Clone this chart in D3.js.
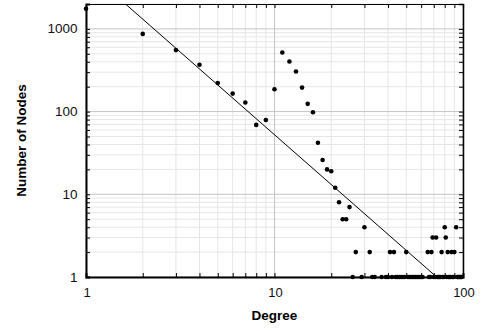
<!DOCTYPE html>
<html>
<head>
<meta charset="utf-8">
<script src="https://cdn.jsdelivr.net/npm/d3@7"></script>
<style>
  html, body { margin: 0; padding: 0; background: #fff; }
  svg { display: block; }
  text { font-family: "Liberation Sans", Arial, Helvetica, sans-serif; }
</style>
</head>
<body>
<svg id="chart" width="484" height="331"></svg>
<script>
// ---- data ----
const degrees = [1,2,3,4,5,6,7,8,9,10,11,12,13,14,15,16,17,18,19,20,21,22,23,24,25,27,30,32,41,43,50,65,68,69,72,77,80,81,83,87,90,92];
const counts  = [1750,870,554,368,222,165,129,69,79,186,518,404,306,195,124,98,42,26,20,19,12,8,5,5,7,2,4,2,2,2,2,2,2,3,3,2,4,3,2,2,2,4];
// degrees that have exactly one node
const singleDegrees = [26,29,33,34,37,39,40,42,44,45,46,47,48,49,51,52,53,54,55,56,57,58,59,60,61,66,67,70,71,73,74,75,76,78,79,82,84,85,86,88,89,93,94,95,96,97,98];
const singleCounts = singleDegrees.map(() => 1);
// power-law fit line endpoints
const fitDegree = [1, 100];
const fitCount = [5250, 0.525];
const xTickLabels = [1, 10, 100];
const yTickLabels = [1, 10, 100, 1000];

// ---- layout ----
const W = 484, H = 331;
const margin = {left: 86, right: 21, top: 4, bottom: 54};
const x0 = margin.left, x1 = W - margin.right, y0 = margin.top, y1 = H - margin.bottom;

const x = d3.scaleLog().domain([1, 100]).range([x0, x1]);
const y = d3.scaleLog().domain([1, 2000]).range([y1, y0]);

const svg = d3.select("#chart");

// all log ticks
function logTicks(lo, hi) {
  const t = [];
  for (let p = 1; p <= hi; p *= 10) {
    for (let m = 1; m < 10; m++) {
      const v = m * p;
      if (v >= lo && v <= hi) t.push(v);
    }
  }
  return t;
}
const xAll = logTicks(1, 100);
const yAll = logTicks(1, 2000);
const isMajor = v => Math.abs(Math.log10(v) - Math.round(Math.log10(v))) < 1e-9;

// gridlines
const grid = svg.append("g");
grid.selectAll("line.vx").data(xAll.filter(v => !isMajor(v))).join("line")
  .attr("x1", d => x(d)).attr("x2", d => x(d)).attr("y1", y0).attr("y2", y1)
  .attr("stroke", "#e6e6e6").attr("stroke-width", 1);
grid.selectAll("line.hy").data(yAll.filter(v => !isMajor(v))).join("line")
  .attr("y1", d => y(d)).attr("y2", d => y(d)).attr("x1", x0).attr("x2", x1)
  .attr("stroke", "#e6e6e6").attr("stroke-width", 1);
grid.selectAll("line.mx").data(xAll.filter(v => isMajor(v))).join("line")
  .attr("x1", d => x(d)).attr("x2", d => x(d)).attr("y1", y0).attr("y2", y1)
  .attr("stroke", "#c4c4c4").attr("stroke-width", 1);
grid.selectAll("line.my").data(yAll.filter(v => isMajor(v))).join("line")
  .attr("y1", d => y(d)).attr("y2", d => y(d)).attr("x1", x0).attr("x2", x1)
  .attr("stroke", "#c4c4c4").attr("stroke-width", 1);

// fit line (clipped)
svg.append("clipPath").attr("id", "clip").append("rect")
  .attr("x", x0).attr("y", y0).attr("width", x1 - x0).attr("height", y1 - y0);
const fitData = fitDegree.map((d, i) => [d, fitCount[i]]);
svg.append("path")
  .datum(fitData)
  .attr("clip-path", "url(#clip)")
  .attr("fill", "none").attr("stroke", "#000").attr("stroke-width", 1)
  .attr("d", d3.line().x(d => x(d[0])).y(d => y(d[1])));

// axes with inward ticks
const tickLen = 4;
const bottomAxis = d3.axisBottom(x).tickValues(xAll).tickSize(-tickLen).tickFormat("");
const topAxis = d3.axisTop(x).tickValues(xAll).tickSize(-tickLen).tickFormat("");
const leftAxis = d3.axisLeft(y).tickValues(yAll).tickSize(-tickLen).tickFormat("");
const rightAxis = d3.axisRight(y).tickValues(yAll).tickSize(-tickLen).tickFormat("");

function styleAxis(g, w) {
  g.select(".domain").attr("stroke", "#000").attr("stroke-width", w);
  g.selectAll(".tick line").attr("stroke", "#000").attr("stroke-width", 1);
}
svg.append("g").attr("transform", `translate(0,${y0})`).call(topAxis).call(g => styleAxis(g, 1.2));
svg.append("g").attr("transform", `translate(${x1},0)`).call(rightAxis).call(g => styleAxis(g, 1.5));
svg.append("g").attr("transform", `translate(0,${y1})`).call(bottomAxis).call(g => styleAxis(g, 2));
svg.append("g").attr("transform", `translate(${x0},0)`).call(leftAxis).call(g => styleAxis(g, 2));
svg.selectAll(".domain").attr("fill", "none");

// tick labels
svg.append("g").selectAll("text").data(xTickLabels).join("text")
  .attr("x", d => x(d) + 1).attr("y", 297)
  .attr("text-anchor", "middle").attr("font-size", 13).attr("fill", "#111")
  .text(d => d);
svg.append("g").selectAll("text").data(yTickLabels).join("text")
  .attr("x", 77.5).attr("y", d => y(d) + 4.6)
  .attr("text-anchor", "end").attr("font-size", 13.5).attr("fill", "#111")
  .text(d => d);

// axis titles
svg.append("text").attr("x", (x0 + x1) / 2).attr("y", 320)
  .attr("text-anchor", "middle").attr("font-size", 13.5).attr("font-weight", "bold")
  .text("Degree");
svg.append("text").attr("transform", `translate(26,${(y0 + y1) / 2}) rotate(-90)`)
  .attr("text-anchor", "middle").attr("font-size", 13.5).attr("font-weight", "bold")
  .text("Number of Nodes");

// points
const pts = degrees.map((d, i) => [d, counts[i]])
  .concat(singleDegrees.map((d, i) => [d, singleCounts[i]]));
svg.append("g").selectAll("circle").data(pts).join("circle")
  .attr("cx", d => x(d[0])).attr("cy", d => y(d[1])).attr("r", 2.3)
  .attr("fill", "#000");
</script>
</body>
</html>
